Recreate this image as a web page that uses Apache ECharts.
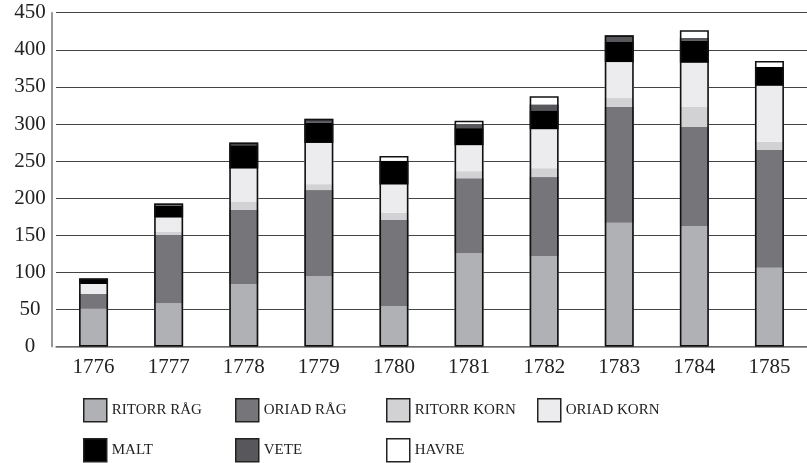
<!DOCTYPE html>
<html>
<head>
<meta charset="utf-8">
<script src="https://cdn.jsdelivr.net/npm/echarts@6/dist/echarts.min.js"></script>
<style>html,body{margin:0;padding:0;background:#fff}#c{width:807px;height:463px}</style>
</head>
<body>
<div id="c"></div>
<script>
const years = ['1776','1777','1778','1779','1780','1781','1782','1783','1784','1785'];
const yTicks = [0,50,100,150,200,250,300,350,400,450];
const ritorrRag  = [51, 58.5, 84.5, 95, 55, 126, 122, 167, 162.5, 106.5];
const oriadRag   = [20, 92, 100, 116, 116, 101, 106.5, 156, 133.5, 158.5];
const ritorrKorn = [0, 4.5, 11, 8, 9.5, 9.5, 12, 12, 27, 11];
const oriadKorn  = [13.5, 19, 44.5, 55.5, 38, 35, 52.5, 48.5, 59.5, 75.5];
const malt       = [7.5, 16, 31.5, 27, 32, 23, 25.5, 27, 29.5, 25.5];
const vete       = [0, 3, 3.5, 5.5, 0, 5.5, 8, 9, 4, 0];
const havre      = [0, 0, 0, 0, 6.5, 4.5, 11, 0, 10.5, 8];

const seriesDefs = [
  {name: 'RITORR RÅG', data: ritorrRag, color: '#b0b1b5'},
  {name: 'ORIAD RÅG', data: oriadRag, color: '#76757a'},
  {name: 'RITORR KORN', data: ritorrKorn, color: '#d2d2d4'},
  {name: 'ORIAD KORN', data: oriadKorn, color: '#ececee'},
  {name: 'MALT', data: malt, color: '#000000'},
  {name: 'VETE', data: vete, color: '#58575c'},
  {name: 'HAVRE', data: havre, color: '#ffffff'}
];
const totals = years.map((_, i) => seriesDefs.reduce((s, d) => s + d.data[i], 0));

const FONT = 'Liberation Serif';
const legendPos = [
  [83, 398], [235, 398], [386, 398], [537, 398],
  [83, 438], [235, 438], [386, 438]
];

const chart = echarts.init(document.getElementById('c'), null, {renderer: 'canvas'});
chart.setOption({
  animation: false,
  backgroundColor: '#fff',
  grid: {left: 56, top: 12.7, width: 761, height: 334},
  legend: seriesDefs.map((d, i) => ({
    data: [d.name],
    left: legendPos[i][0], top: legendPos[i][1],
    padding: 0, itemWidth: 23, itemHeight: 23, itemGap: 8,
    icon: 'rect',
    selectedMode: false,
    itemStyle: {borderColor: '#222', borderWidth: 1.5},
    textStyle: {fontFamily: FONT, fontSize: 15, color: '#222', padding: [2, 0, 0, 0]}
  })),
  xAxis: {
    type: 'category', data: years,
    axisLine: {show: true, lineStyle: {color: '#777', width: 1.5}},
    axisTick: {show: false},
    axisLabel: {fontFamily: FONT, fontSize: 21, color: '#222', margin: 10}
  },
  yAxis: {
    type: 'value', min: yTicks[0], max: yTicks[yTicks.length - 1], interval: 50,
    offset: 4,
    axisLine: {show: true, lineStyle: {color: '#777', width: 1.5}},
    axisTick: {show: false},
    splitLine: {show: true, lineStyle: {color: '#444', width: 1.2}},
    axisLabel: {fontFamily: FONT, fontSize: 21, color: '#222', margin: 22, align: 'center'}
  },
  series: seriesDefs.map(d => ({
    name: d.name, type: 'bar', stack: 'total', data: d.data,
    barWidth: 29, barGap: '-100%',
    itemStyle: {color: d.color},
    emphasis: {disabled: true}
  })).concat([{
    name: 'outline', type: 'bar', data: totals, barWidth: 29, barGap: '-100%',
    silent: true, z: 5,
    itemStyle: {color: 'rgba(0,0,0,0)', borderColor: '#111', borderWidth: 1.6}
  }])
});
</script>
</body>
</html>
